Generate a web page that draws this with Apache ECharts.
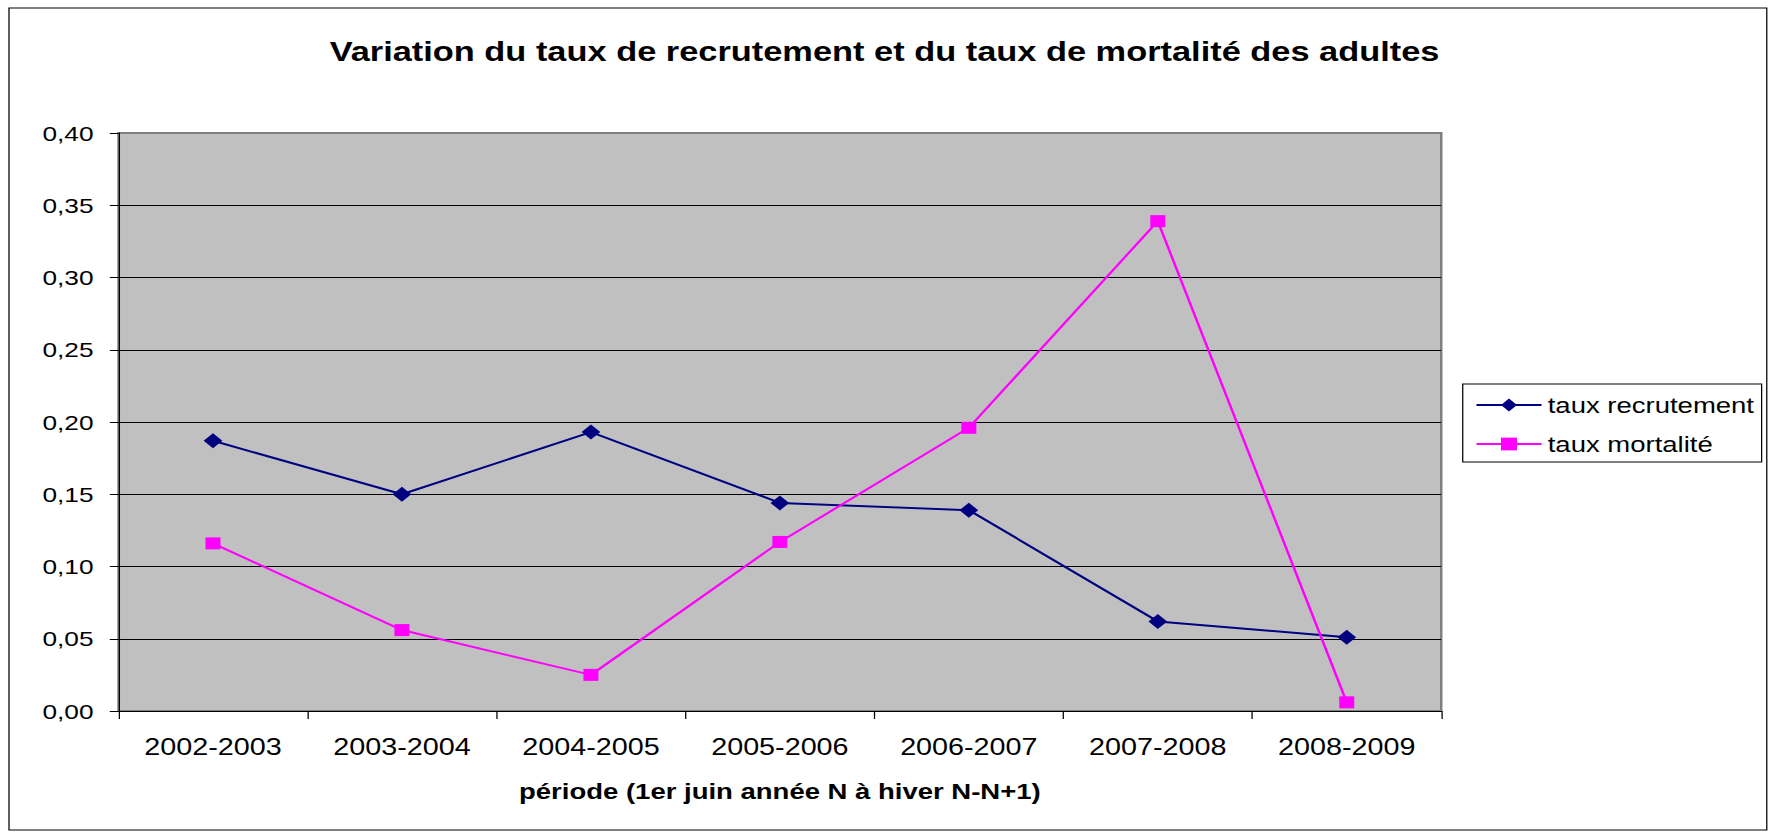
<!DOCTYPE html>
<html>
<head>
<meta charset="utf-8">
<script src="https://cdn.jsdelivr.net/npm/echarts@6/dist/echarts.min.js"></script>
<style>
  html, body { margin: 0; padding: 0; background: #fff; overflow: hidden; }
  /* the original picture is stretched sideways, so the chart is drawn narrower and widened */
  #chart { width: 1415px; height: 833px; transform: scaleX(1.2502); transform-origin: 0 0; }
</style>
</head>
<body>
<div id="chart"></div>
<script>
const periodes = ['2002-2003', '2003-2004', '2004-2005', '2005-2006', '2006-2007', '2007-2008', '2008-2009'];
const tauxRecrutement = [0.187, 0.150, 0.193, 0.144, 0.139, 0.062, 0.051];
const tauxMortalite = [0.116, 0.056, 0.025, 0.117, 0.196, 0.339, 0.006];
const yTicks = [0, 0.05, 0.10, 0.15, 0.20, 0.25, 0.30, 0.35, 0.40];

const font = "'Liberation Sans', Arial, sans-serif";
const chart = echarts.init(document.getElementById('chart'), null, { renderer: 'svg' });

// top grid line sits on the grey plot border
const splitColors = yTicks.map((v, i) => i === yTicks.length - 1 ? '#808080' : '#000');

const option = {
    animation: false,
    backgroundColor: '#fff',
    textStyle: { fontFamily: font, color: '#000' },
    title: {
        text: 'Variation du taux de recrutement et du taux de mortalité des adultes',
        left: 'center',
        top: 33,
        padding: [5, 0, 5, 12],
        textStyle: { fontFamily: font, fontSize: 27.5, fontWeight: 'bold', color: '#000' }
    },
    graphic: [{
        type: 'rect',
        shape: { x: 7.2, y: 8, width: 1406, height: 822 },
        style: { fill: 'none', stroke: '#000', lineWidth: 1 },
        silent: true
    }],
    legend: {
        orient: 'vertical',
        left: 1170,
        top: 384,
        borderColor: '#000',
        borderWidth: 1,
        padding: [9, 6, 6, 10],
        itemWidth: 52,
        itemHeight: 16,
        itemGap: 15,
        selectedMode: false,
        textStyle: { fontFamily: font, fontSize: 22, lineHeight: 24, color: '#000' },
        data: ['taux recrutement', 'taux mortalité']
    },
    grid: {
        left: 94.8,
        right: 262.2,
        top: 133,
        bottom: 122,
        show: true,
        backgroundColor: '#C0C0C0',
        borderColor: '#808080',
        borderWidth: 2
    },
    xAxis: {
        type: 'category',
        data: periodes,
        boundaryGap: true,
        name: 'période (1er juin année N à hiver N-N+1)',
        nameLocation: 'middle',
        nameGap: 69,
        nameTextStyle: { fontFamily: font, fontSize: 22, fontWeight: 'bold', color: '#000' },
        axisLine: { lineStyle: { color: '#000', width: 1 } },
        axisTick: { show: true, length: 8, lineStyle: { color: '#000' } },
        axisLabel: { fontFamily: font, fontSize: 23, color: '#000', margin: 25 },
        splitLine: { show: false }
    },
    yAxis: {
        type: 'value',
        min: 0,
        max: 0.4,
        interval: 0.05,
        axisLine: { show: true, lineStyle: { color: '#000', width: 1 } },
        axisTick: { show: true, length: 7, lineStyle: { color: '#000' } },
        axisLabel: {
            fontFamily: font,
            fontSize: 21,
            color: '#000',
            margin: 20,
            formatter: v => v.toFixed(2).replace('.', ',')
        },
        splitLine: { show: true, lineStyle: { color: splitColors, width: 1 } }
    },
    series: [
        {
            name: 'taux recrutement',
            type: 'line',
            data: tauxRecrutement,
            symbol: 'diamond',
            symbolSize: 15,
            itemStyle: { color: '#000080' },
            lineStyle: { color: '#000080', width: 2 }
        },
        {
            name: 'taux mortalité',
            type: 'line',
            data: tauxMortalite,
            symbol: 'rect',
            symbolSize: 12,
            itemStyle: { color: '#FF00FF' },
            lineStyle: { color: '#FF00FF', width: 2 }
        }
    ]
};

chart.setOption(option);
</script>
</body>
</html>
